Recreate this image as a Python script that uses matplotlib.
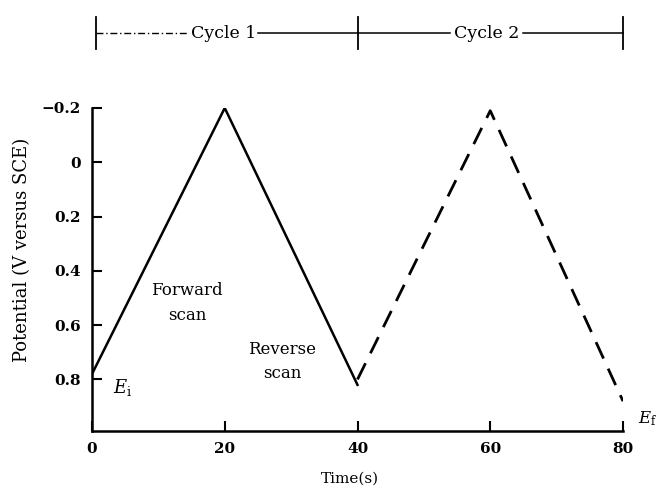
import numpy as np
import matplotlib.pyplot as plt
import matplotlib.transforms as mtransforms

# potential waveform
t_cycle1 = [0, 20, 40]
e_cycle1 = [0.78, -0.2, 0.82]
t_cycle2 = [40, 60, 80]
e_cycle2 = [0.80, -0.19, 0.88]

x_ticks = [0, 20, 40, 60, 80]
y_ticks = [-0.2, 0, 0.2, 0.4, 0.6, 0.8]
y_labels = ['\u22120.2', '0', '0.2', '0.4', '0.6', '0.8']

plt.rcParams['font.family'] = ['DejaVu Serif']
plt.rcParams['mathtext.fontset'] = 'dejavuserif'

fig = plt.figure(figsize=(6.58, 4.90), dpi=100)
ax = fig.add_axes([92 / 658, 59 / 490, 531 / 658, 323 / 490])

ax.plot(t_cycle1, e_cycle1, color='black', lw=1.8)
ax.plot(t_cycle2, e_cycle2, color='black', lw=2.0, dashes=(6.5, 4))

ax.set_xlim(0, 80)
ax.set_ylim(0.99, -0.2)
ax.spines['top'].set_visible(False)
ax.spines['right'].set_visible(False)
for s in ['left', 'bottom']:
    ax.spines[s].set_linewidth(1.8)

ax.set_xticks(x_ticks)
ax.set_yticks(y_ticks)
ax.set_yticklabels(y_labels)
ax.tick_params(direction='in', length=7, width=1.5, labelsize=11, pad=8)
for lab in ax.get_xticklabels() + ax.get_yticklabels():
    lab.set_fontweight('bold')

ax.set_xlabel('Time(s)', fontsize=11)
ax.xaxis.set_label_coords(0.485, -0.125)
ax.set_ylabel('Potential (V versus SCE)', fontsize=13)
ax.yaxis.set_label_coords(-0.115, 0.56)

ax.text(14.3, 0.473, 'Forward', fontsize=12, ha='center', va='center')
ax.text(14.3, 0.566, 'scan', fontsize=12, ha='center', va='center')
ax.text(28.6, 0.688, 'Reverse', fontsize=12, ha='center', va='center')
ax.text(28.6, 0.777, 'scan', fontsize=12, ha='center', va='center')
ax.text(3.2, 0.83, r'$E_\mathrm{i}$', fontsize=13, ha='left', va='center')
ax.text(82.2, 0.945, r'$E_\mathrm{f}$', fontsize=12, ha='left', va='center',
        clip_on=False)

# cycle bracket above the axes
tr = mtransforms.blended_transform_factory(ax.transData, ax.transAxes)
yb = 1.232
ax.plot([0.6, 14.6], [yb, yb], color='black', lw=1.0, dashes=(5, 2, 1, 2),
        transform=tr, clip_on=False)
ax.plot([25, 40], [yb, yb], color='black', lw=1.1, transform=tr, clip_on=False)
ax.plot([40, 54.0], [yb, yb], color='black', lw=1.1, transform=tr, clip_on=False)
ax.plot([65.0, 80], [yb, yb], color='black', lw=1.1, transform=tr, clip_on=False)
for xv in [0.6, 40, 80]:
    ax.plot([xv, xv], [yb - 0.05, yb + 0.05], color='black', lw=1.3,
            transform=tr, clip_on=False)
ax.text(19.9, yb, 'Cycle 1', fontsize=12.5, ha='center', va='center', transform=tr)
ax.text(59.5, yb, 'Cycle 2', fontsize=12.5, ha='center', va='center', transform=tr)

fig.savefig('out.png', dpi=100)
